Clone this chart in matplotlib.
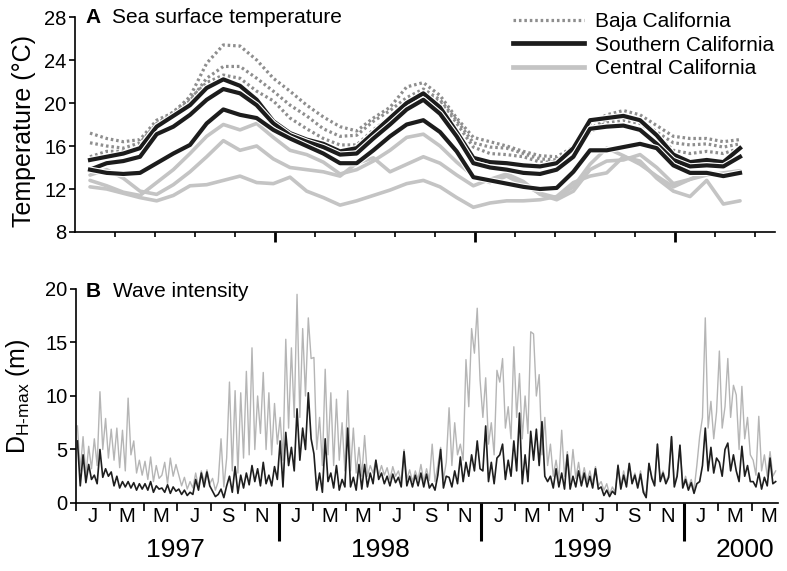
"""
Two-panel time series: (A) monthly sea surface temperature at Baja, Southern
and Central California sites, (B) wave intensity D_H-max, 1997 - mid 2000.
"""
import numpy as np
import matplotlib
matplotlib.use("Agg")
import matplotlib.pyplot as plt
import matplotlib.patheffects as pe
from matplotlib.lines import Line2D
from matplotlib.transforms import blended_transform_factory

plt.rcParams["font.family"] = ["Liberation Sans", "DejaVu Sans"]
plt.rcParams["mathtext.fontset"] = "custom"
plt.rcParams["mathtext.rm"] = "Liberation Sans"
plt.rcParams["mathtext.bf"] = "Liberation Sans:bold"

# ── panel A: monthly SST (°C), Jan 1997 .. Apr 2000, three sites per region ──
baja_1 = [17.2, 16.7, 16.4, 16.6, 18.4, 19.1, 20.6, 23.7, 25.4, 25.3, 24.0, 22.3,
          21.1, 19.8, 18.7, 17.8, 17.4, 18.6, 19.6, 21.5, 21.9, 20.7, 18.6, 16.8,
          16.4, 16.0, 15.5, 15.1, 15.0, 15.9, 18.1, 18.9, 19.3, 18.9, 17.9, 16.9,
          16.7, 16.7, 16.4, 16.6]
baja_2 = [16.3, 16.0, 15.8, 16.3, 18.1, 19.0, 20.2, 22.3, 23.4, 23.4, 22.3, 21.1,
          19.8, 18.8, 17.6, 16.9, 17.0, 18.3, 19.3, 20.5, 21.3, 20.3, 18.4, 16.3,
          15.9, 15.8, 15.3, 14.8, 14.7, 15.5, 17.6, 18.5, 18.7, 18.4, 17.3, 16.3,
          16.1, 16.2, 15.9, 16.2]
baja_3 = [15.0, 15.5, 15.5, 15.8, 18.0, 19.2, 20.4, 21.9, 22.6, 22.3, 21.1, 20.2,
          18.6, 17.6, 16.7, 16.1, 16.1, 17.5, 18.7, 20.1, 21.0, 20.1, 18.1, 15.9,
          15.3, 15.2, 15.0, 14.5, 14.5, 15.3, 17.3, 18.2, 18.4, 18.1, 17.0, 15.6,
          15.3, 15.5, 15.3, 15.8]
south_1 = [14.7, 15.0, 15.3, 15.8, 17.8, 18.8, 19.8, 21.4, 22.2, 21.6, 20.3, 18.3,
           17.2, 16.6, 16.2, 15.5, 15.8, 17.2, 18.6, 20.0, 20.9, 19.6, 17.3, 14.9,
           14.5, 14.4, 14.2, 14.1, 14.4, 15.8, 18.4, 18.6, 18.8, 18.4, 17.0, 15.2,
           14.5, 14.7, 14.5, 15.8]
south_2 = [13.8, 14.4, 14.6, 15.0, 17.1, 17.8, 18.9, 20.3, 21.3, 20.9, 19.8, 18.1,
           17.0, 16.4, 15.9, 15.2, 15.3, 16.7, 18.0, 19.4, 20.3, 19.0, 16.9, 14.4,
           14.0, 13.8, 13.5, 13.4, 13.8, 15.0, 17.6, 17.8, 17.9, 17.5, 16.2, 14.7,
           14.1, 14.2, 14.1, 15.0]
south_3 = [13.8, 13.5, 13.4, 13.5, 14.4, 15.3, 16.1, 18.1, 19.4, 18.9, 18.6, 17.5,
           16.7, 16.0, 15.3, 14.4, 14.4, 15.6, 16.9, 18.0, 18.4, 17.3, 15.5, 13.1,
           12.8, 12.5, 12.2, 12.0, 12.1, 13.6, 15.6, 15.6, 15.9, 16.2, 15.8, 14.2,
           13.5, 13.5, 13.2, 13.5]
central_1 = [12.8, 12.3, 11.7, 11.4, 12.6, 13.8, 15.3, 16.9, 18.0, 17.5, 18.1, 16.8,
             15.6, 15.2, 14.5, 13.4, 13.8, 14.6, 15.6, 16.8, 17.1, 16.0, 14.5, 13.2,
             12.6, 13.2, 12.4, 11.6, 11.2, 12.2, 14.3, 15.8, 15.1, 14.3, 13.2, 12.2,
             12.9, 13.3, 13.5, 13.7]
central_2 = [13.3, 13.8, 13.0, 11.8, 11.5, 12.4, 13.6, 15.0, 16.5, 15.6, 16.0, 14.8,
             14.0, 13.8, 13.6, 13.2, 14.4, 14.9, 13.6, 14.3, 15.0, 14.4, 13.3, 12.3,
             12.9, 13.4, 12.7, 11.5, 11.0, 11.8, 13.8, 14.6, 14.7, 15.2, 14.0, 12.5,
             12.9, 13.6, 13.3, 13.5]
central_3 = [12.2, 12.0, 11.6, 11.2, 10.9, 11.4, 12.3, 12.4, 12.8, 13.2, 12.6, 12.5,
             13.1, 11.8, 11.2, 10.5, 10.9, 11.4, 11.9, 12.5, 12.8, 12.2, 11.2, 10.3,
             10.7, 10.9, 10.9, 11.0, 11.3, 12.6, 13.2, 13.5, 15.0, 14.6, 13.0, 11.8,
             11.3, 12.8, 10.6, 10.9]

# ── panel B: wave intensity D_H-max (m), 5-day values from Jan 1997 ──────────
wave_max = [  # grey: regional maximum
    7.2, 3.0, 6.2, 2.5, 5.3, 3.2,   6.0, 3.5, 10.4, 5.0, 7.9, 4.2,
    6.9, 4.0, 7.0, 3.3, 6.8, 3.0,   9.8, 4.5, 5.8, 2.8, 4.0, 2.6,
    3.9, 2.2, 4.3, 2.0, 3.5, 2.3,   2.6, 3.8, 1.8, 4.2, 2.5, 3.6,
    2.6, 1.6, 2.4, 1.3, 2.0, 1.4,   2.8, 1.5, 3.0, 2.0, 3.1, 1.8,
    2.3, 1.2, 2.0, 6.0, 1.5, 4.2,   11.3, 3.0, 10.5, 2.8, 10.3, 4.2,
    12.3, 4.5, 14.5, 5.0, 10.0, 6.5,   12.2, 5.0, 10.3, 4.5, 9.3, 5.5,
    # 1998
    8.0, 4.0, 15.3, 7.0, 14.5, 8.0,   19.5, 8.0, 16.3, 10.0, 17.3, 13.5,
    13.6, 5.0, 8.0, 3.5, 12.5, 4.5,   10.3, 3.5, 9.7, 4.0, 7.5, 3.0,
    10.5, 3.0, 7.0, 2.8, 5.2, 2.5,   6.3, 2.5, 3.5, 2.8, 4.0, 2.6,
    3.5, 2.6, 3.3, 2.2, 3.4, 2.5,   3.0, 2.0, 5.0, 2.2, 3.1, 2.0,
    3.0, 2.2, 3.6, 2.0, 3.2, 2.1,   5.5, 2.0, 3.5, 5.2, 2.2, 3.8,
    8.9, 3.5, 7.5, 4.5, 5.5, 4.0,   13.4, 9.0, 16.3, 14.0, 18.2, 11.5,
    # 1999
    8.0, 11.7, 5.5, 7.5, 4.5, 12.4,   11.3, 13.5, 7.0, 9.0, 6.0, 14.6,
    8.0, 12.1, 6.0, 10.0, 6.5, 16.0,   15.8, 10.0, 12.0, 4.5, 8.0, 3.5,
    5.5, 2.5, 4.0, 2.2, 6.8, 2.5,   4.8, 2.0, 5.0, 2.3, 3.8, 2.0,
    3.3, 2.0, 3.0, 1.8, 3.4, 1.6,   2.0, 1.2, 1.8, 0.8, 1.5, 1.0,
    3.6, 1.5, 3.0, 1.8, 3.7, 2.0,   2.8, 1.6, 3.0, 1.2, 0.8, 3.7,
    2.5, 1.8, 5.5, 2.2, 3.0, 2.0,   2.6, 6.2, 1.8, 2.6, 5.4, 1.6,
    # 2000
    2.5, 1.5, 2.2, 1.2, 3.5, 6.2,   8.0, 17.3, 7.0, 9.5, 6.0, 8.5,
    14.2, 7.0, 9.0, 13.5, 8.0, 11.0,   10.1, 5.0, 10.9, 6.0, 8.0, 4.5,
    4.0, 2.6, 8.1, 3.0, 4.5, 2.5,   4.8, 2.5, 3.0,
]
wave_site = [  # black: local site
    5.8, 1.6, 4.5, 1.9, 3.6, 2.2,   2.6, 1.8, 5.0, 2.4, 3.2, 2.5,
    2.9, 1.6, 2.5, 1.4, 2.0, 1.5,   2.0, 1.4, 1.9, 1.2, 1.8, 1.3,
    1.8, 1.2, 2.0, 1.0, 1.6, 1.3,   1.4, 1.0, 1.7, 0.9, 1.5, 1.1,
    1.3, 0.8, 1.2, 0.7, 1.0, 0.8,   2.2, 1.2, 2.8, 1.5, 2.9, 1.6,
    1.1, 0.6, 0.8, 1.3, 0.5, 1.6,   2.5, 1.0, 3.4, 0.9, 2.6, 1.4,
    2.8, 1.7, 3.5, 2.0, 3.2, 1.6,   3.8, 1.8, 2.6, 1.6, 3.4, 2.2,
    # 1998
    5.8, 1.5, 6.6, 3.5, 5.2, 3.0,   8.8, 4.0, 7.0, 5.0, 10.3, 6.0,
    4.6, 1.2, 2.8, 1.0, 6.0, 2.0,   2.8, 1.4, 3.5, 1.2, 2.2, 1.5,
    7.0, 1.5, 2.4, 1.2, 3.6, 1.3,   3.6, 1.5, 2.8, 1.8, 4.0, 2.2,
    2.8, 1.8, 2.5, 1.6, 2.7, 1.9,   2.4, 1.5, 4.8, 1.6, 2.5, 1.5,
    2.6, 1.6, 2.8, 1.5, 2.7, 1.4,   1.8, 1.2, 2.6, 5.0, 1.4, 2.5,
    2.4, 1.5, 3.0, 1.8, 4.3, 2.0,   3.8, 2.5, 4.5, 3.0, 5.8, 3.2,
    # 1999
    3.0, 7.2, 2.0, 3.8, 1.8, 4.2,   4.5, 5.5, 2.2, 4.0, 2.5, 5.8,
    3.0, 8.4, 1.8, 4.5, 2.0, 6.7,   4.0, 6.9, 3.5, 7.6, 2.5, 2.0,
    2.5, 1.4, 3.2, 1.5, 2.8, 1.3,   4.5, 1.3, 2.5, 1.5, 3.0, 1.6,
    2.8, 1.5, 2.5, 1.4, 3.2, 1.3,   1.5, 0.7, 1.2, 0.6, 1.1, 0.8,
    3.5, 1.3, 2.6, 1.5, 3.7, 1.8,   2.6, 1.4, 2.7, 1.0, 0.5, 3.7,
    2.3, 1.6, 5.5, 2.0, 2.8, 1.8,   2.4, 6.2, 1.5, 2.5, 5.4, 1.4,
    # 2000
    2.2, 1.2, 1.9, 0.9, 1.8, 2.0,   3.5, 7.0, 3.0, 5.2, 2.8, 4.2,
    3.8, 2.5, 5.0, 5.6, 3.0, 4.5,   3.0, 2.0, 5.3, 2.5, 3.5, 2.0,
    2.0, 1.5, 2.8, 1.3, 2.4, 1.6,   4.2, 1.8, 2.0,
]

YEARS = [1997, 1998, 1999, 2000]
MONTH_LABELS = ["J", "M", "M", "J", "S", "N"]

# decimal-year time axes
t_sst = 1997 + (0.9 + np.arange(len(baja_1))) / 12
t_wave = 1997 + (np.arange(len(wave_max)) + 0.5) / 72

C_BAJA, C_SOUTH, C_CENT = "#8e8e8e", "#1c1c1c", "#c4c4c4"
halo = [pe.Stroke(linewidth=4.6, foreground="white"), pe.Normal()]

fig = plt.figure(figsize=(7.87, 5.71), dpi=100)
ax1 = fig.add_axes([0.0953, 0.5937, 0.8895, 0.3765])
ax2 = fig.add_axes([0.0966, 0.1191, 0.8920, 0.3748])

# ── panel A ──────────────────────────────────────────────────────────────────
for s in (central_1, central_2, central_3):
    ax1.plot(t_sst, s, color=C_CENT, lw=2.6, solid_capstyle="round", zorder=2)
for s in (baja_1, baja_2, baja_3):
    ax1.plot(t_sst, s, color=C_BAJA, lw=2.3, ls=(0, (0.8, 0.9)), zorder=3)
for s in (south_1, south_2, south_3):
    ax1.plot(t_sst, s, color=C_SOUTH, lw=3.0, zorder=4, path_effects=halo)

ax1.set_xlim(1997, 2000.5)
ax1.set_ylim(8, 28)
ax1.set_yticks([8, 12, 16, 20, 24, 28])
ax1.set_xticks([1998, 1999, 2000])
ax1.set_xticks([y + f for y in YEARS for f in (0.2, 0.4, 0.6, 0.8)
                if y + f < 2000.5], minor=True)
ax1.tick_params(axis="x", which="major", length=7.5, width=2.0, labelbottom=False)
ax1.tick_params(axis="x", which="minor", length=3.5, width=1.2)
ax1.tick_params(axis="y", length=4, width=1.2, labelsize=14.5, pad=2)
ax1.set_ylabel("Temperature (°C)", fontsize=18)
ax1.yaxis.set_label_coords(-0.055, 0.47)

ax1.text(0.0143, 1.0, "A", transform=ax1.transAxes, fontsize=15,
         fontweight="bold", va="center", ha="left")
ax1.text(0.0529, 1.0, "Sea surface temperature", transform=ax1.transAxes,
         fontsize=15, va="center", ha="left")

handles = [Line2D([], [], color=C_BAJA, lw=2.3, ls=(0, (0.8, 0.9))),
           Line2D([], [], color=C_SOUTH, lw=3.4),
           Line2D([], [], color=C_CENT, lw=3.4)]
fig.legend(handles, ["Baja California", "Southern California", "Central California"],
           loc="upper left", bbox_to_anchor=(513 / 787, 1 - 12 / 571),
           frameon=False, fontsize=15, handlelength=3.4, handletextpad=0.55,
           labelspacing=0.22, borderpad=0, borderaxespad=0)

# ── panel B ──────────────────────────────────────────────────────────────────
ax2.plot(t_wave, wave_max, color="#b5b5b5", lw=1.0, zorder=2)
ax2.plot(t_wave, wave_site, color="#1e1e1e", lw=1.2, zorder=3)

ax2.set_xlim(1997, 2000.463)
ax2.set_ylim(0, 20)
ax2.set_yticks([0, 5, 10, 15, 20])
ax2.set_xticks([1998, 1999, 2000])
ax2.set_xticks([y + m / 12 for y in YEARS for m in (0, 2, 4, 6, 8, 10)
                if y + m / 12 < 2000.46 and m > 0 or y == 1997 and m == 0], minor=True)
ax2.tick_params(axis="x", which="major", length=27, width=2.2, labelbottom=False)
ax2.tick_params(axis="x", which="minor", length=6, width=1.2)
ax2.tick_params(axis="y", length=4, width=1.2, labelsize=14.5, pad=2)
ax2.set_ylabel(r"D$_{\mathregular{H\text{-}max}}$ (m)", fontsize=18)
ax2.yaxis.set_label_coords(-0.062, 0.5)

ax2.text(0.0142, 0.986, "B", transform=ax2.transAxes, fontsize=15,
         fontweight="bold", va="center", ha="left")
ax2.text(0.0527, 0.986, "Wave intensity", transform=ax2.transAxes,
         fontsize=15, va="center", ha="left")

trans = blended_transform_factory(ax2.transData, ax2.transAxes)
for y in YEARS:
    for i, lab in enumerate(MONTH_LABELS):
        xm = y + (2 * i + 1) / 12
        if xm < 2000.46:
            ax2.text(xm, -0.061, lab, transform=trans, fontsize=14.5,
                     ha="center", va="center")
for y, xc in zip(YEARS, [1997.49, 1998.5, 1999.5, 2000.3]):
    ax2.text(xc, -0.22, str(y), transform=trans, fontsize=19,
             ha="center", va="center")

for ax in (ax1, ax2):
    ax.spines["top"].set_visible(False)
    ax.spines["right"].set_visible(False)
    ax.spines["left"].set_linewidth(1.2)
    ax.spines["bottom"].set_linewidth(1.2)

fig.savefig("out.png", dpi=100)
